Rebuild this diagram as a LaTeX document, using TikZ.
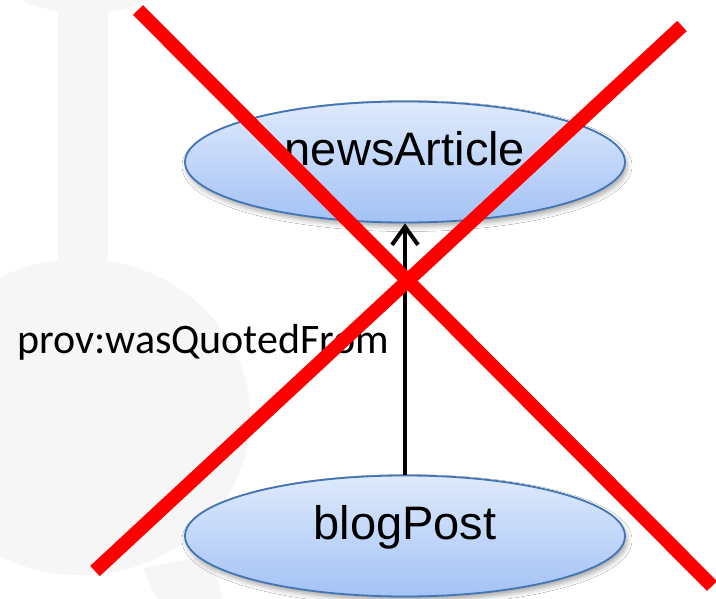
\documentclass[tikz,border=0pt]{standalone}
\usepackage{fontspec}
\usetikzlibrary{shapes.geometric,arrows.meta,shadows.blur}
\newfontfamily\nodefont{Liberation Sans}
\newfontfamily\labelfont{Carlito}
\definecolor{ghost}{HTML}{F6F6F6}
\definecolor{ovaltop}{HTML}{DFEAFC}
\definecolor{ovalbottom}{HTML}{A3C2F5}
\definecolor{ovalline}{HTML}{4375B5}
\definecolor{crossred}{HTML}{FF0000}
\tikzset{
  entity/.style={ellipse, draw=ovalline, line width=1.8pt,
    top color=ovaltop, bottom color=ovalbottom,
    minimum width=440pt, minimum height=121pt, inner sep=0pt,
    font=\nodefont\fontsize{47pt}{47pt}\selectfont,
    text height=0.72em, text depth=0pt,
    blur shadow={shadow xshift=2pt, shadow yshift=-4pt,
      shadow blur radius=5pt, shadow opacity=35}},
  relation/.style={line width=4pt, -{Straight Barb[length=18pt,width=26pt]}},
  edgelabel/.style={font=\labelfont\fontsize{42pt}{42pt}\selectfont, inner sep=0pt, anchor=base west},
  strike/.style={draw=crossred, line width=14pt}
}
\begin{document}
\begin{tikzpicture}[x=1pt,y=-1pt]
  \useasboundingbox (0,0) rectangle (716,599);
  \fill[white] (0,0) rectangle (716,599);
  % faint background silhouette
  \begin{scope}
    \clip (0,0) rectangle (716,599);
    \fill[ghost] (85,-25) ellipse [x radius=85, y radius=38];
    \fill[ghost] (58,0) rectangle (108,262);
    \fill[ghost] (80,417) ellipse [x radius=170, y radius=158];
    \fill[ghost] (143,568) -- (157,599) -- (222,599) -- (212,555) -- cycle;
  \end{scope}
  % entities
  \node[entity] (news) at (405,162) {newsArticle};
  \node[entity] (blog) at (405,536) {blogPost};
  % relation
  \draw[relation] (blog.north) -- (news.south);
  \node[edgelabel] (rel) at (17,353) {prov:wasQuotedFrom};
  % cross-out
  \coordinate (xa) at (138,10);
  \coordinate (xb) at (712,586);
  \coordinate (xc) at (682,26);
  \coordinate (xd) at (95,571);
  \draw[strike] (xa) -- (xb);
  \draw[strike] (xd) -- (xc);
\end{tikzpicture}
\end{document}
